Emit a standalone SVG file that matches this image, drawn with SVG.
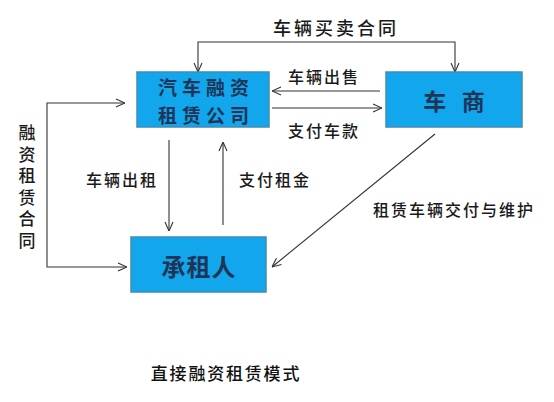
<svg xmlns="http://www.w3.org/2000/svg" width="554" height="402" viewBox="0 0 554 402">
<defs>
<marker id="arr" viewBox="0 0 10 10" refX="10" refY="5" markerWidth="10" markerHeight="10" markerUnits="userSpaceOnUse" orient="auto-start-reverse">
<path d="M1,1 L10,5 L1,9" fill="none" stroke="#333" stroke-width="1.1"/>
</marker>
</defs>
<style>
.box{fill:#12A6EC;stroke:#3F8DB5;stroke-width:1.5}
.bt{font-family:"Noto Sans CJK SC","Noto Sans",sans-serif;fill:#1E3558;font-weight:bold;text-anchor:middle}
.lbl{font-family:"Noto Sans CJK SC","Noto Sans",sans-serif;fill:#1a1a1a;font-size:16px;font-weight:500;letter-spacing:2px;text-anchor:middle}
.v{font-family:"Noto Sans CJK SC","Noto Sans",sans-serif;fill:#1a1a1a;font-size:17px;font-weight:500;writing-mode:vertical-rl;letter-spacing:4.6px}
.cn{fill:none;stroke:#333;stroke-width:1.1}
</style>
<rect width="554" height="402" fill="#fff"/>
<g id="connectors">
<path class="cn" d="M198,72 V42 H455 V72" marker-start="url(#arr)" marker-end="url(#arr)"/>
<line class="cn" x1="380" y1="91" x2="272" y2="91" marker-end="url(#arr)"/>
<line class="cn" x1="272" y1="108" x2="382" y2="108" marker-end="url(#arr)"/>
<path class="cn" d="M125,103 H47 V267 H127" marker-start="url(#arr)" marker-end="url(#arr)"/>
<line class="cn" x1="169" y1="140" x2="169" y2="231" marker-end="url(#arr)"/>
<line class="cn" x1="223" y1="225" x2="223" y2="142" marker-end="url(#arr)"/>
<line class="cn" x1="435" y1="134" x2="272" y2="267" marker-end="url(#arr)"/>
</g>
<g id="labels">
<text class="lbl" x="336" y="35" style="font-size:18px;letter-spacing:3px">车辆买卖合同</text>
<text class="lbl" x="324" y="83">车辆出售</text>
<text class="lbl" x="324" y="137">支付车款</text>
<text class="lbl" x="122" y="186">车辆出租</text>
<text class="lbl" x="275" y="186">支付租金</text>
<text class="lbl" x="454" y="216">租赁车辆交付与维护</text>
<text class="v" x="27" y="124">融资租赁合同</text>
<text class="lbl" x="226" y="380" style="font-size:17px;letter-spacing:1.8px;fill:#111">直接融资租赁模式</text>
</g>
<g id="company">
<rect class="box" x="137" y="72" width="132" height="55"/>
<text class="bt" x="206" y="95" style="font-size:19px;letter-spacing:5px">汽车融资</text>
<text class="bt" x="206" y="123" style="font-size:19px;letter-spacing:5px">租赁公司</text>
</g>
<g id="dealer">
<rect class="box" x="386" y="72" width="136" height="55"/>
<text class="bt" x="454" y="110" style="font-size:23px" xml:space="preserve">车   商</text>
</g>
<g id="lessee">
<rect class="box" x="131" y="237" width="135" height="55"/>
<text class="bt" x="199" y="276" style="font-size:24px;letter-spacing:1px">承租人</text>
</g>
</svg>
